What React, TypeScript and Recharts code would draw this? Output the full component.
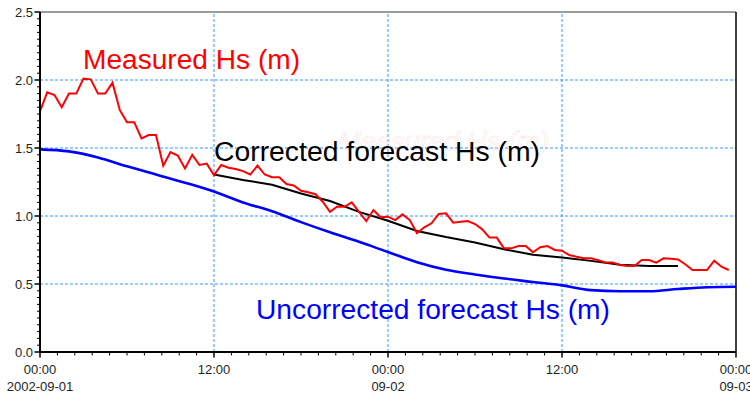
import { LineChart, Line, XAxis, YAxis, ReferenceLine } from "recharts";

// measured wave height (every 30 min)
const measuredHours = [
  0, 0.5, 1, 1.5, 2, 2.5, 3, 3.5, 4, 4.5, 5, 5.5, 6, 6.5, 7, 7.5, 8, 8.5, 9, 9.5,
  10, 10.5, 11, 11.5, 12, 12.5, 13, 13.5, 14, 14.5, 15, 15.5, 16, 16.5, 17, 17.5, 18, 18.5, 19, 19.5,
  20, 20.5, 21, 21.5, 22, 22.5, 23, 23.5, 24, 24.5, 25, 25.5, 26, 26.5, 27, 27.5, 28, 28.5, 29, 29.5,
  30, 30.5, 31, 31.5, 32, 32.5, 33, 33.5, 34, 34.5, 35, 35.5, 36, 36.5, 37, 37.5, 38, 38.5, 39, 39.5,
  40, 40.5, 41, 41.5, 42, 42.5, 43, 43.5, 44, 44.5, 45, 45.5, 46, 46.5, 47, 47.5,
];
const measuredHs = [
  1.77, 1.91, 1.89, 1.8, 1.9, 1.9, 2.01, 2.005, 1.9, 1.9, 1.98, 1.78, 1.69, 1.69, 1.57, 1.595, 1.595, 1.37, 1.47, 1.445,
  1.35, 1.45, 1.375, 1.385, 1.3, 1.375, 1.355, 1.345, 1.33, 1.305, 1.37, 1.305, 1.285, 1.285, 1.235, 1.225, 1.185, 1.175, 1.16, 1.105,
  1.03, 1.07, 1.068, 1.1, 1.03, 0.963, 1.044, 0.99, 0.995, 0.97, 1.012, 0.97, 0.873, 0.917, 0.946, 1.015, 1.02, 0.951, 0.958, 0.963,
  0.941, 0.902, 0.841, 0.841, 0.762, 0.762, 0.779, 0.779, 0.733, 0.77, 0.779, 0.75, 0.745, 0.713, 0.7, 0.689, 0.689, 0.675, 0.659, 0.659,
  0.64, 0.632, 0.632, 0.676, 0.676, 0.657, 0.689, 0.685, 0.68, 0.645, 0.603, 0.603, 0.603, 0.671, 0.627, 0.603,
];

const correctedHours = [12, 14, 16, 18, 20, 22, 24, 26, 28, 30, 32, 34, 36, 38, 40, 42, 44];
const correctedHs = [1.305, 1.265, 1.23, 1.165, 1.11, 1.03, 0.965, 0.89, 0.845, 0.805, 0.755, 0.715, 0.695, 0.67, 0.642, 0.632, 0.632];

const uncorrectedHours = [0, 2, 4, 6, 8, 10, 12, 14, 16, 18, 20, 22, 24, 26, 28, 30, 32, 34, 36, 38, 40, 42, 44, 46, 48];
const uncorrectedHs = [
  1.49, 1.475, 1.43, 1.365, 1.305, 1.245, 1.18, 1.1, 1.035, 0.955, 0.88, 0.81, 0.735, 0.66, 0.605, 0.57, 0.54, 0.515, 0.49,
  0.455, 0.447, 0.447, 0.463, 0.476, 0.48,
];

const timeLabels = ["00:00", "12:00", "00:00", "12:00", "00:00"];
const dateLabels = ["2002-09-01", "", "09-02", "", "09-03"];
const gridHours = [12, 24, 36];
const gridHs = [0.5, 1.0, 1.5, 2.0];

const toRows = (hs: number[], vs: number[]) => hs.map((h, i) => ({ h, v: vs[i] }));
const measured = toRows(measuredHours, measuredHs);
const corrected = toRows(correctedHours, correctedHs);
const uncorrected = toRows(uncorrectedHours, uncorrectedHs);

// minor ticks: 10 per 12 h on x, every 0.05 m on y
const xTicks = Array.from({ length: 41 }, (_, i) => (i * 48) / 40);
const yTicks = Array.from({ length: 51 }, (_, i) => (i * 2.5) / 50);

const FONT = "'Liberation Sans', Arial, sans-serif";
const LABEL = "#1e1e1e";
const GRID = "#3399ff";

const isMultiple = (v: number, step: number) => Math.abs(v / step - Math.round(v / step)) < 1e-6;

const XTick = (props: any) => {
  const { x, y, payload } = props;
  const v = payload.value;
  if (!isMultiple(v, 12)) {
    return <line x1={x} x2={x} y1={y} y2={y + 3.5} stroke="#000" />;
  }
  const idx = Math.round(v / 12);
  return (
    <g>
      <line x1={x} x2={x} y1={y} y2={y + 5.5} stroke="#000" strokeWidth={1.5} />
      <text x={x} y={y + 22} textAnchor="middle" fontSize={13} fontFamily={FONT} fill={LABEL}>
        {timeLabels[idx]}
      </text>
      <text x={x} y={y + 39} textAnchor="middle" fontSize={13} fontFamily={FONT} fill={LABEL}>
        {dateLabels[idx]}
      </text>
    </g>
  );
};

const YTick = (props: any) => {
  const { x, y, payload } = props;
  const v = payload.value;
  if (!isMultiple(v, 0.5)) {
    return <line x1={x - 3} x2={x} y1={y} y2={y} stroke="#000" />;
  }
  return (
    <g>
      <line x1={x - 5.5} x2={x} y1={y} y2={y} stroke="#000" strokeWidth={1.5} />
      <text x={x - 7} y={y + 4.5} textAnchor="end" fontSize={13} fontFamily={FONT} fill={LABEL}>
        {v.toFixed(1)}
      </text>
    </g>
  );
};

const App = () => {
  return (
    <div style={{ position: "absolute", left: 0, top: 0, width: 750, height: 394, background: "#fff" }}>
      <LineChart width={750} height={394} margin={{ top: 12, right: 14, bottom: 2, left: 0 }}>
        <XAxis
          dataKey="h"
          type="number"
          domain={[0, 48]}
          ticks={xTicks}
          interval={0}
          tick={<XTick />}
          tickSize={0}
          tickMargin={0}
          tickLine={false}
          axisLine={{ stroke: "#000", strokeWidth: 2 }}
          height={40}
        />
        <YAxis
          dataKey="v"
          type="number"
          domain={[0, 2.5]}
          ticks={yTicks}
          interval={0}
          tick={<YTick />}
          tickSize={0}
          tickMargin={0}
          tickLine={false}
          axisLine={{ stroke: "#000", strokeWidth: 2 }}
          width={40}
        />
        {gridHs.map((g) => (
          <ReferenceLine key={"y" + g} y={g} stroke={GRID} strokeDasharray="3 2" />
        ))}
        {gridHours.map((g) => (
          <ReferenceLine key={"x" + g} x={g} stroke={GRID} strokeDasharray="3 2" />
        ))}
        <ReferenceLine y={2.5} stroke="#7a7a7a" strokeWidth={1.5} />
        <ReferenceLine x={48} stroke="#000" strokeWidth={1.5} />
        <Line data={uncorrected} dataKey="v" type="monotone" stroke="#0000ff" strokeWidth={2.6} dot={false} isAnimationActive={false} />
        <Line data={corrected} dataKey="v" type="linear" stroke="#000" strokeWidth={2} dot={false} isAnimationActive={false} />
        <Line data={measured} dataKey="v" type="linear" stroke="#ff0000" strokeWidth={2} dot={false} isAnimationActive={false} />
      </LineChart>
      <svg width={750} height={394} style={{ position: "absolute", left: 0, top: 0, pointerEvents: "none" }}>
        <text
          x={338}
          y={150}
          fontSize={26}
          fontStyle="italic"
          fontFamily={FONT}
          fill="none"
          stroke="#f7c4c4"
          strokeWidth={0.5}
          strokeDasharray="1 1"
          textLength={211}
          lengthAdjust="spacingAndGlyphs"
        >
          Measured Hs (m)
        </text>
        <text x={83} y={68.5} fontSize={27} fontFamily={FONT} fill="#ff0000" textLength={217} lengthAdjust="spacingAndGlyphs">
          Measured Hs (m)
        </text>
        <text x={214} y={161} fontSize={27} fontFamily={FONT} fill="#000" textLength={326} lengthAdjust="spacingAndGlyphs">
          Corrected forecast Hs (m)
        </text>
        <text x={256} y={319} fontSize={27} fontFamily={FONT} fill="#0000ff" textLength={354} lengthAdjust="spacingAndGlyphs">
          Uncorrected forecast Hs (m)
        </text>
      </svg>
    </div>
  );
};

export default App;
